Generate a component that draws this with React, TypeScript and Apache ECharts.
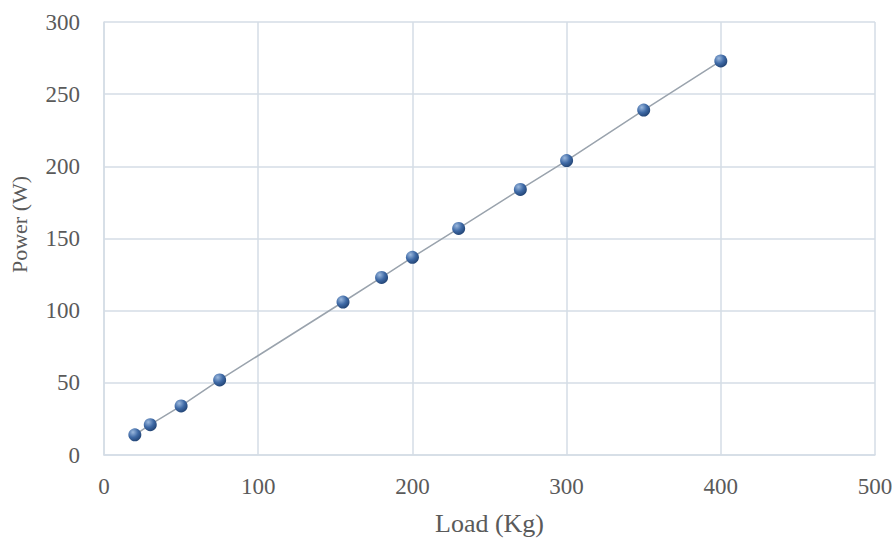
import React, { useEffect, useRef } from "react";
import * as echarts from "echarts";

const loads = [20, 30, 50, 75, 155, 180, 200, 230, 270, 300, 350, 400];
const powers = [14, 21, 34, 52, 106, 123, 137, 157, 184, 204, 239, 273];
const xTicks = [0, 100, 200, 300, 400, 500];
const yTicks = [0, 50, 100, 150, 200, 250, 300];

export default function App() {
  const ref = useRef<HTMLDivElement>(null);
  useEffect(() => {
    if (!ref.current) return;
    const chart = echarts.init(ref.current, undefined, { renderer: "svg" });
    const font = "'Liberation Serif', 'Times New Roman', serif";
    const gridColor = "#d5dde6";
    const textColor = "#5a5a5a";
    chart.setOption({
      animation: false,
      backgroundColor: "#ffffff",
      grid: {
        left: 104,
        right: 19,
        top: 22,
        bottom: 85,
        containLabel: false,
        outerBoundsMode: "none",
      },
      xAxis: {
        type: "value",
        min: xTicks[0],
        max: xTicks[xTicks.length - 1],
        interval: 100,
        name: "Load (Kg)",
        nameLocation: "middle",
        nameGap: 55,
        nameTextStyle: { fontFamily: font, fontSize: 26, color: textColor },
        axisLine: { show: true, lineStyle: { color: gridColor, width: 1.5 } },
        axisTick: { show: false },
        axisLabel: { fontFamily: font, fontSize: 23, color: textColor, margin: 20 },
        splitLine: { show: true, lineStyle: { color: gridColor, width: 1.5 } },
      },
      yAxis: {
        type: "value",
        min: yTicks[0],
        max: yTicks[yTicks.length - 1],
        interval: 50,
        name: "Power (W)",
        nameLocation: "middle",
        nameGap: 74,
        nameTextStyle: {
          fontFamily: font,
          fontSize: 22,
          color: textColor,
          padding: [0, 0, 0, 28],
        },
        axisLine: { show: true, lineStyle: { color: gridColor, width: 1.5 } },
        axisTick: { show: false },
        axisLabel: { fontFamily: font, fontSize: 23, color: textColor, margin: 24 },
        splitLine: { show: true, lineStyle: { color: gridColor, width: 1.5 } },
      },
      series: [
        {
          type: "line",
          data: loads.map((x, i) => [x, powers[i]]),
          lineStyle: { color: "#9aa3ad", width: 1.5 },
          symbol: "circle",
          symbolSize: 13,
          itemStyle: {
            color: new echarts.graphic.RadialGradient(0.35, 0.3, 0.8, [
              { offset: 0, color: "#9bb8dd" },
              { offset: 0.5, color: "#3f6aa6" },
              { offset: 1, color: "#1d3d6b" },
            ]),
            borderWidth: 0,
          },
        },
      ],
    });
    return () => chart.dispose();
  }, []);
  return (
    <div
      ref={ref}
      style={{ position: "fixed", left: 0, top: 0, width: 894, height: 540 }}
    />
  );
}
